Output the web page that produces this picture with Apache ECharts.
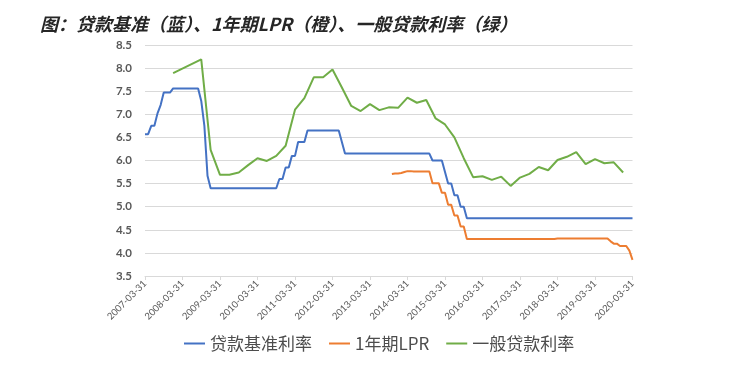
<!DOCTYPE html>
<html>
<head>
<meta charset="utf-8">
<script src="https://cdn.jsdelivr.net/npm/echarts@6/dist/echarts.min.js"></script>
<style>
html,body{margin:0;padding:0;background:#fff;}
#chart{width:736px;height:365px;}
</style>
</head>
<body>
<div id="chart"></div>
<script>
// ---- data ----
const titleText = '图：贷款基准（蓝）、1年期LPR（橙）、一般贷款利率（绿）';
const seriesNames = ['贷款基准利率', '1年期LPR', '一般贷款利率'];
const yTicks = [3.5, 4.0, 4.5, 5.0, 5.5, 6.0, 6.5, 7.0, 7.5, 8.0, 8.5];

// monthly categories from 2007-03 to 2020-03 (month-end dates)
const startYear = 2007, startMonth = 3, endYear = 2020, endMonth = 3;

const blueDates = ['2007-03','2007-04','2007-05','2007-06','2007-07','2007-08','2007-09','2007-11','2007-12',
  '2008-08','2008-09','2008-10','2008-11','2008-12','2010-09','2010-10','2010-11','2010-12','2011-01',
  '2011-02','2011-03','2011-04','2011-06','2011-07','2012-05','2012-06','2012-07','2014-10','2014-11',
  '2015-02','2015-03','2015-04','2015-05','2015-06','2015-07','2015-08','2015-09','2015-10','2020-03'];
const blueValues = [6.57,6.57,6.75,6.75,7.02,7.20,7.47,7.47,7.56,
  7.56,7.29,6.75,5.67,5.40,5.40,5.60,5.60,5.85,5.85,
  6.10,6.10,6.40,6.40,6.65,6.65,6.40,6.15,6.15,6.00,
  6.00,5.75,5.50,5.50,5.25,5.25,5.00,5.00,4.75,4.75];

const orangeDates = ['2013-10','2013-11','2013-12','2014-01','2014-02','2014-03','2014-04','2014-05','2014-10',
  '2014-11','2015-01','2015-02','2015-03','2015-04','2015-05','2015-06','2015-07','2015-08','2015-09',
  '2015-10','2018-02','2018-03','2019-07','2019-08','2019-09','2019-10','2019-11','2020-01','2020-02','2020-03'];
const orangeValues = [5.71,5.72,5.72,5.73,5.75,5.77,5.77,5.76,5.76,
  5.51,5.51,5.30,5.30,5.04,5.04,4.81,4.81,4.57,4.57,
  4.30,4.30,4.31,4.31,4.25,4.20,4.20,4.15,4.15,4.05,3.85];

const greenDates = ['2007-12','2008-09','2008-12','2009-03','2009-06','2009-09','2009-12','2010-03','2010-06',
  '2010-09','2010-12','2011-03','2011-06','2011-09','2011-12','2012-03','2012-06','2012-09','2012-12',
  '2013-03','2013-06','2013-09','2013-12','2014-03','2014-06','2014-09','2014-12','2015-03','2015-06',
  '2015-09','2015-12','2016-03','2016-06','2016-09','2016-12','2017-03','2017-06','2017-09','2017-12',
  '2018-03','2018-06','2018-09','2018-12','2019-03','2019-06','2019-09','2019-12'];
const greenValues = [7.89,8.19,6.23,5.69,5.69,5.74,5.90,6.05,5.99,
  6.10,6.32,7.10,7.35,7.80,7.80,7.97,7.58,7.18,7.07,
  7.22,7.09,7.15,7.14,7.36,7.25,7.31,6.91,6.78,6.50,
  6.05,5.64,5.66,5.58,5.65,5.45,5.63,5.71,5.86,5.79,
  6.01,6.08,6.18,5.92,6.03,5.94,5.96,5.74];

// ---- build ----
function pad(n){ return (n < 10 ? '0' : '') + n; }
const categories = [];
for (let y = startYear, m = startMonth; y < endYear || (y === endYear && m <= endMonth); ) {
  const last = new Date(Date.UTC(y, m, 0)).getUTCDate();
  categories.push(y + '-' + pad(m) + '-' + pad(last));
  m++; if (m > 12) { m = 1; y++; }
}
const keyToCat = {};
categories.forEach(c => { keyToCat[c.slice(0, 7)] = c; });
function pairs(dates, vals){ return dates.map((d, i) => [keyToCat[d], vals[i]]); }

const colors = ['#4472C4', '#ED7D31', '#70AD47'];
const chart = echarts.init(document.getElementById('chart'), null, {renderer: 'canvas'});
chart.setOption({
  animation: false,
  color: colors,
  title: {
    text: titleText,
    left: 35, top: 10,
    textStyle: {
      fontFamily: '"Noto Sans CJK SC", sans-serif',
      fontSize: 18, fontWeight: 'bold', fontStyle: 'italic', color: '#262626'
    }
  },
  legend: {
    data: seriesNames,
    left: 179, top: 330,
    icon: 'rect', itemWidth: 21, itemHeight: 2, itemGap: 17,
    textStyle: { fontFamily: '"Noto Sans CJK SC", sans-serif', fontSize: 17, color: '#4d4d4d' }
  },
  grid: { left: 145, right: 103.5, top: 45, bottom: 89, containLabel: false },
  xAxis: {
    type: 'category',
    data: categories,
    boundaryGap: false,
    axisLine: { lineStyle: { color: '#d9d9d9', width: 1 } },
    axisTick: { show: true, interval: 11, length: 4, lineStyle: { color: '#d9d9d9' } },
    axisLabel: {
      interval: 11, rotate: 45, margin: 6,
      fontFamily: 'Lato, "Open Sans", sans-serif', fontSize: 9.5, color: '#595959'
    },
    splitLine: { show: false }
  },
  yAxis: {
    type: 'value',
    min: yTicks[0], max: yTicks[yTicks.length - 1], interval: 0.5,
    axisLine: { show: false }, axisTick: { show: false },
    axisLabel: {
      margin: 13, formatter: v => v.toFixed(1),
      fontFamily: 'Lato, "Open Sans", sans-serif', fontSize: 11.5, fontWeight: 'bold', color: '#595959'
    },
    splitLine: { lineStyle: { color: '#d9d9d9', width: 1 } }
  },
  series: [
    { name: seriesNames[0], type: 'line', data: pairs(blueDates, blueValues), showSymbol: false, symbol: 'none',
      lineStyle: { width: 2, color: colors[0] } },
    { name: seriesNames[1], type: 'line', data: pairs(orangeDates, orangeValues), showSymbol: false, symbol: 'none',
      lineStyle: { width: 2, color: colors[1] } },
    { name: seriesNames[2], type: 'line', data: pairs(greenDates, greenValues), showSymbol: false, symbol: 'none',
      lineStyle: { width: 2, color: colors[2] } }
  ]
});
</script>
</body>
</html>
